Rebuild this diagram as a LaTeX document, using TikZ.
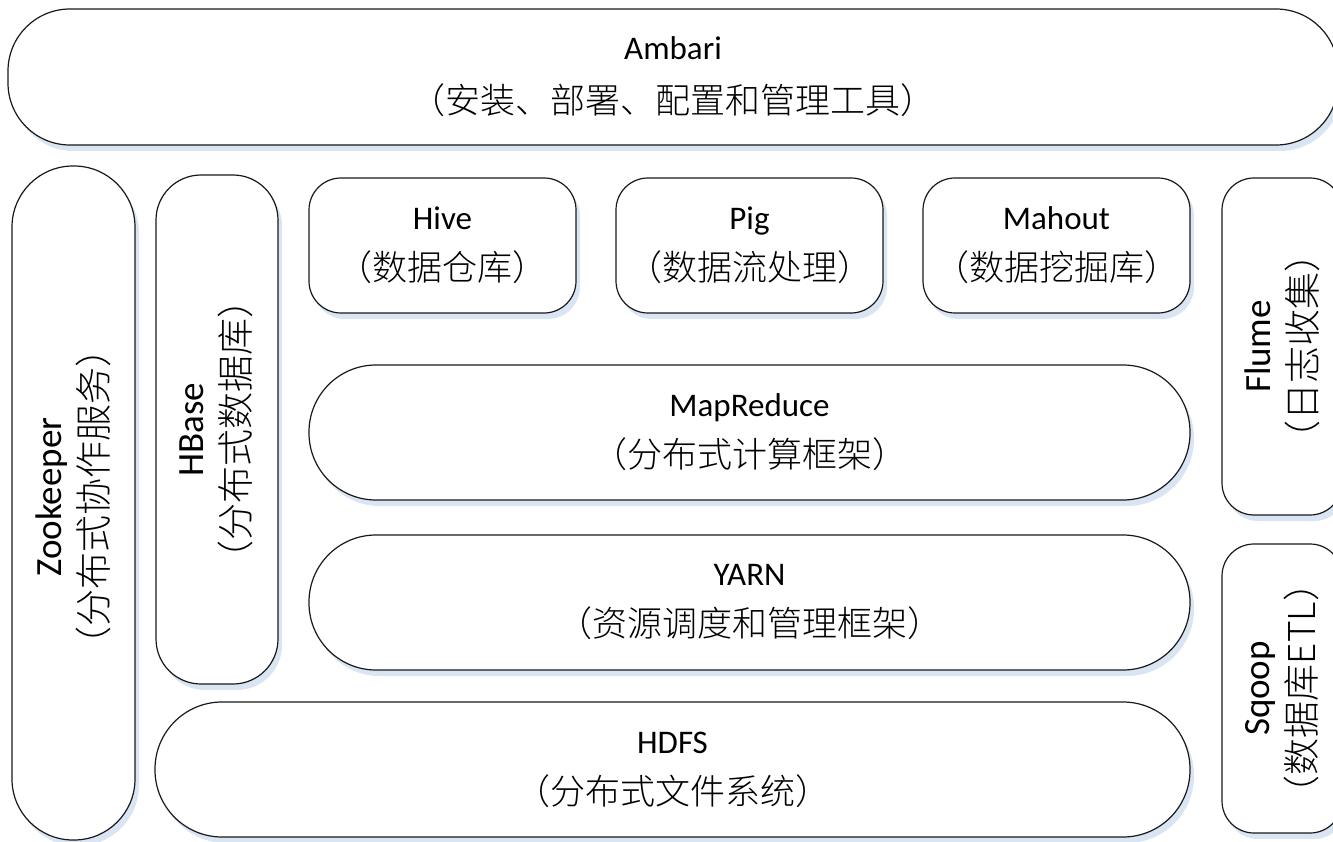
\documentclass[tikz,border=0pt]{standalone}
\usepackage{fontspec}
\setmainfont{Carlito}
\newfontfamily\cjk{Noto Sans CJK SC Light}
\usetikzlibrary{shadows}
\definecolor{shadowblue}{RGB}{218,229,243}
\definecolor{edgecol}{RGB}{25,25,25}
\newcommand\twolines[2]{{\fontsize{33}{51}\selectfont #1}\\{\cjk\fontsize{35}{51}\selectfont #2}}
\newcommand\vtwolines[2]{{\fontsize{37}{46}\selectfont #1}\\{\cjk\fontsize{37}{46}\selectfont #2}}
\tikzset{
  box/.style={draw=edgecol, line width=1.2pt, fill=white, rectangle,
    inner sep=0pt, outer sep=0pt, align=center,
    drop shadow={shadow xshift=4pt, shadow yshift=-6pt, fill=shadowblue, opacity=1},
    font=\fontsize{33}{51}\selectfont},
  lbl/.style={align=center, inner sep=0pt, rotate=90, font=\fontsize{37}{46}\selectfont},
}
\begin{document}
\begin{tikzpicture}[x=1pt,y=-1pt]
\useasboundingbox (0,0) rectangle (1333,842);
\clip (0,0) rectangle (1333,842);
% top bar
\node[box, rounded corners=62pt, minimum width=1330pt, minimum height=136pt, font=\fontsize{33}{54}\selectfont] (ambari) at (673,77)
  {Ambari\\{\cjk\fontsize{35}{54}\selectfont （安装、部署、配置和管理工具）}};
% left vertical columns
\node[box, rounded corners=61pt, minimum width=123pt, minimum height=674pt] (zk) at (73.5,503) {};
\node[lbl] (zkt) at ([yshift=6pt]zk.center) {\vtwolines{Zookeeper}{（分布式协作服务）}};
\node[box, rounded corners=45pt, minimum width=122pt, minimum height=509pt] (hbase) at (217,429.5) {};
\node[lbl] (hbaset) at ([xshift=-1pt]hbase.center) {\vtwolines{HBase}{（分布式数据库）}};
% upper tools
\node[box, rounded corners=32pt, minimum width=267pt, minimum height=135pt] (hive) at (442.5,245.5)
  {\twolines{Hive}{（数据仓库）}};
\node[box, rounded corners=32pt, minimum width=267pt, minimum height=135pt] (pig) at (749.5,245.5)
  {\twolines{Pig}{（数据流处理）}};
\node[box, rounded corners=32pt, minimum width=267pt, minimum height=135pt] (mahout) at (1056.5,245.5)
  {\twolines{Mahout}{（数据挖掘库）}};
% layers
\node[box, rounded corners=67pt, minimum width=881pt, minimum height=135pt] (mapreduce) at (749.5,432.5)
  {\twolines{MapReduce}{（分布式计算框架）}};
\node[box, rounded corners=67pt, minimum width=881pt, minimum height=135pt] (yarn) at (749.5,602.5)
  {\twolines{YARN}{（资源调度和管理框架）}};
\node[box, rounded corners=67pt, minimum width=1035pt, minimum height=135pt] (hdfs) at (672.5,769.5)
  {\twolines{HDFS}{（分布式文件系统）}};
% right columns
\node[box, rounded corners=32pt, minimum width=120pt, minimum height=337pt] (flume) at (1282,346.5) {};
\node[lbl] (flumet) at (flume.center) {\vtwolines{Flume}{（日志收集）}};
\node[box, rounded corners=32pt, minimum width=120pt, minimum height=289pt] (sqoop) at (1282,688.5) {};
\node[lbl] (sqoopt) at (sqoop.center) {\vtwolines{Sqoop}{（数据库ETL）}};
\end{tikzpicture}
\end{document}
